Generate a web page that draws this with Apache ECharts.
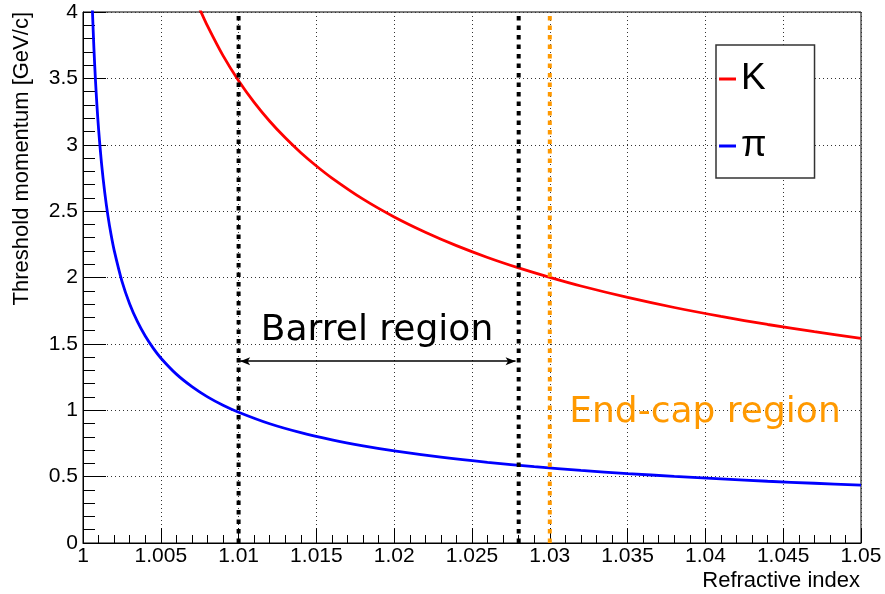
<!DOCTYPE html>
<html>
<head>
<meta charset="utf-8">
<script src="https://cdn.jsdelivr.net/npm/echarts@6/dist/echarts.min.js"></script>
<style>html,body{margin:0;padding:0;background:#fff}#c{width:885px;height:594px}</style>
</head>
<body>
<div id="c"></div>
<script>
// ---- data ----
const refrIndexPi = [1.0006, 1.0007, 1.0008, 1.0009, 1.001, 1.0012, 1.0014, 1.0016, 1.0018, 1.002, 1.0025, 1.003, 1.0035, 1.004, 1.0045, 1.005, 1.006, 1.007, 1.008, 1.009, 1.01, 1.012, 1.014, 1.016, 1.018, 1.02, 1.023, 1.026, 1.029, 1.032, 1.035, 1.038, 1.041, 1.044, 1.047, 1.05];
const momentumPi = [4.028, 3.730, 3.489, 3.289, 3.120, 2.848, 2.637, 2.466, 2.325, 2.206, 1.973, 1.801, 1.667, 1.559, 1.470, 1.394, 1.272, 1.178, 1.101, 1.038, 0.985, 0.898, 0.831, 0.777, 0.732, 0.694, 0.647, 0.608, 0.575, 0.547, 0.523, 0.502, 0.483, 0.465, 0.450, 0.436];
const refrIndexK = [1.0075, 1.008, 1.009, 1.01, 1.011, 1.012, 1.013, 1.014, 1.015, 1.016, 1.018, 1.02, 1.022, 1.024, 1.026, 1.028, 1.03, 1.032, 1.035, 1.038, 1.041, 1.044, 1.047, 1.05];
const momentumK = [4.023, 3.895, 3.671, 3.482, 3.319, 3.177, 3.052, 2.940, 2.840, 2.749, 2.590, 2.456, 2.341, 2.240, 2.151, 2.072, 2.001, 1.936, 1.850, 1.774, 1.707, 1.646, 1.592, 1.542];
const barrelEdges = [1.01, 1.028];
const endcapEdge = [1.03];
const momentumRange = [0, 4];
const arrowSpan = [1.0101, 1.0278];
const arrowLevel = 1.37;
const seriesNames = ['K', 'π'];
const xTitle = 'Refractive index';
const yTitle = 'Threshold momentum [GeV/c]';
const barrelLabel = 'Barrel region';
const endcapLabel = 'End-cap region';

const FONT = '"Liberation Sans", Arial, Helvetica, sans-serif';
const zip = (xs, ys) => xs.map((x, i) => [x, ys[i]]);
const vline = (x) => momentumRange.map(y => [x, y]);
const fmt = (v) => String(Number(v.toFixed(4)));

const chart = echarts.init(document.getElementById('c'), null, {renderer: 'canvas'});
const dashBlack = {color: '#000', width: 4, type: [4.5, 5], cap: 'butt'};
const dashOrange = {color: '#ff9900', width: 4, type: [4.5, 5], cap: 'butt'};

chart.setOption({
  animation: false,
  backgroundColor: '#fff',
  grid: {left: 83, right: 24, top: 12, bottom: 51, show: true, borderColor: '#000', borderWidth: 1, backgroundColor: 'transparent', outerBoundsMode: 'none'},
  xAxis: {
    type: 'value', min: 1, max: 1.05, interval: 0.005,
    axisLine: {show: true, lineStyle: {color: '#000', width: 1}},
    axisTick: {show: true, inside: true, length: 15, lineStyle: {color: '#000', width: 1}},
    minorTick: {show: true, splitNumber: 5, length: 8, lineStyle: {color: '#000', width: 1}},
    splitLine: {show: true, lineStyle: {color: '#333', width: 1, type: [1, 3]}},
    axisLabel: {color: '#000', fontSize: 21, fontFamily: FONT, margin: 3, formatter: fmt, hideOverlap: false}
  },
  yAxis: {
    type: 'value', min: 0, max: 4, interval: 0.5,
    axisLine: {show: true, lineStyle: {color: '#000', width: 1}},
    axisTick: {show: true, inside: true, length: 23, lineStyle: {color: '#000', width: 1}},
    minorTick: {show: true, splitNumber: 5, length: 12, lineStyle: {color: '#000', width: 1}},
    splitLine: {show: true, lineStyle: {color: '#333', width: 1, type: [1, 3]}},
    axisLabel: {color: '#000', fontSize: 21, fontFamily: FONT, margin: 5, formatter: fmt, hideOverlap: false}
  },
  legend: {
    data: seriesNames,
    orient: 'vertical', left: 716, top: 45,
    padding: [14, 48, 12, 3], itemGap: 27,
    icon: 'rect', itemWidth: 17, itemHeight: 3,
    backgroundColor: '#fff', borderColor: '#333', borderWidth: 1.5,
    textStyle: {fontSize: 37, fontFamily: FONT, color: '#000', lineHeight: 40},
    selectedMode: false
  },
  series: [
    {name: seriesNames[0], type: 'line', data: zip(refrIndexK, momentumK), smooth: 0.3, showSymbol: false, symbol: 'none', clip: true,
     lineStyle: {color: '#ff0000', width: 2.8}, itemStyle: {color: '#ff0000'}, z: 3},
    {name: seriesNames[1], type: 'line', data: zip(refrIndexPi, momentumPi), smooth: 0.3, showSymbol: false, symbol: 'none', clip: true,
     lineStyle: {color: '#0000ff', width: 2.8}, itemStyle: {color: '#0000ff'}, z: 3},
    {name: 'barrelLow', type: 'line', data: vline(barrelEdges[0]), symbol: 'none', lineStyle: dashBlack, z: 4, silent: true},
    {name: 'barrelHigh', type: 'line', data: vline(barrelEdges[1]), symbol: 'none', lineStyle: dashBlack, z: 4, silent: true},
    {name: 'endcap', type: 'line', data: vline(endcapEdge[0]), symbol: 'none', lineStyle: dashOrange, z: 4, silent: true},
    {name: 'arrow', type: 'line', data: [], symbol: 'none', z: 5, silent: true,
     markLine: {
       silent: true, symbol: ['arrow', 'arrow'], symbolSize: [6, 10],
       label: {show: false},
       lineStyle: {color: '#000', width: 1.5, type: 'solid'},
       emphasis: {disabled: true},
       data: [[{coord: [arrowSpan[0], arrowLevel]}, {coord: [arrowSpan[1], arrowLevel]}]]
     }}
  ],
  graphic: [
    {type: 'text', x: 860, y: 581, silent: true,
     style: {text: xTitle, fill: '#000', font: '22px ' + FONT, textAlign: 'right', textVerticalAlign: 'middle'}},
    {type: 'text', x: 22, y: 12, rotation: Math.PI / 2, silent: true,
     style: {text: yTitle, fill: '#000', font: '22px ' + FONT, textAlign: 'right', textVerticalAlign: 'middle'}},
    {type: 'text', x: 377, y: 331, silent: true, z: 10,
     style: {text: barrelLabel, fill: '#000', font: '36px "DejaVu Sans", sans-serif', textAlign: 'center', textVerticalAlign: 'middle'}},
    {type: 'text', x: 705, y: 413, silent: true, z: 10,
     style: {text: endcapLabel, fill: '#ff9900', font: '36px "DejaVu Sans", sans-serif', textAlign: 'center', textVerticalAlign: 'middle'}}
  ]
});
</script>
</body>
</html>
